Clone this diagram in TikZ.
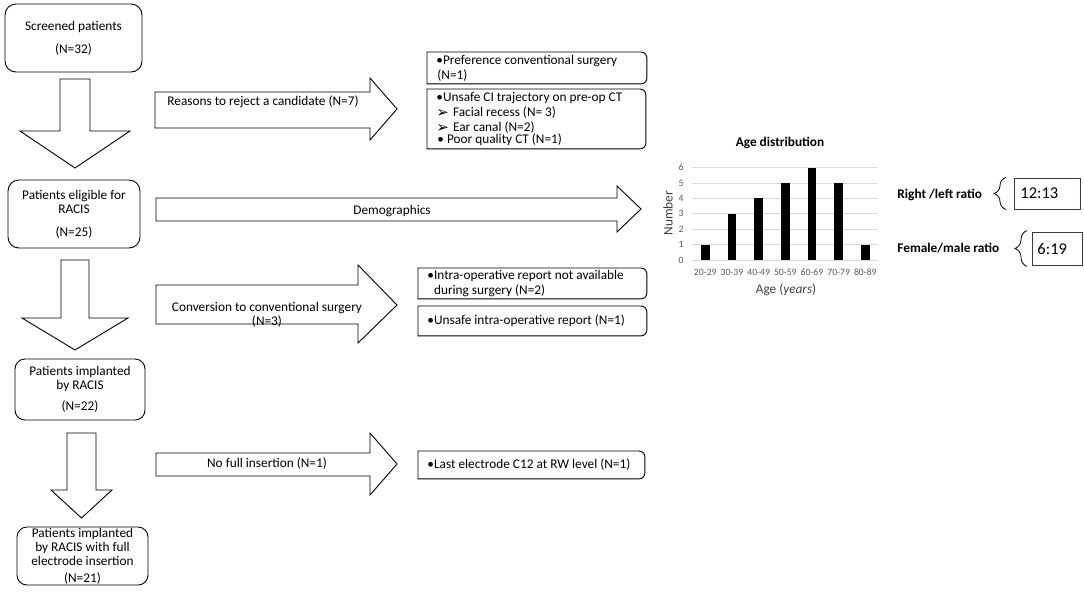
\documentclass[tikz,border=0pt]{standalone}
\usepackage{fontspec}
\setmainfont{Carlito}
\newfontfamily\djv{DejaVu Sans}
\usetikzlibrary{decorations.pathreplacing}
\newcommand\fsmain{\fontsize{13.3}{14}\selectfont}
\newcommand\fsreason{\fontsize{13.3}{15}\selectfont}
\newcommand\fstick{\fontsize{9.7}{11}\selectfont}
\newcommand\fsbig{\fontsize{16.5}{18}\selectfont}
\newcommand\halfbox[1]{\draw (#1.south west) -- (#1.north west) -- ([xshift=-6pt]#1.north east) arc[start angle=90,end angle=0,radius=6pt] -- ([yshift=6pt]#1.south east) arc[start angle=0,end angle=-90,radius=6pt] -- cycle;}
\newcommand\arrowglyph{\raisebox{-0.5pt}{\djv\fontsize{15}{15}\selectfont ➢}}
\definecolor{tickgray}{RGB}{89,89,89}
\definecolor{gridgray}{RGB}{217,217,217}
\definecolor{axisgray}{RGB}{64,64,64}
\definecolor{ratioframe}{RGB}{47,60,82}
\begin{document}
\begin{tikzpicture}[x=1pt,y=-1pt,line width=0.9pt,
  flowbox/.style={draw, rounded corners=11pt, align=center, inner sep=0pt, font=\fsmain},
  reasonframe/.style={inner sep=0pt, anchor=north west},
  reasontext/.style={align=left, inner sep=0pt, font=\fsreason, anchor=west},
  blockarrow/.style={draw, fill=white, line width=0.9pt},
  arrowtext/.style={font=\fsmain, align=center, inner sep=0pt},
  ticklabel/.style={font=\fstick, text=tickgray, inner sep=0pt},
  ratiolabel/.style={font=\fsmain\bfseries, anchor=west, inner sep=0pt},
  ratiobox/.style={draw=ratioframe, font=\fsbig, inner sep=0pt},
  bracestyle/.style={decorate, decoration={brace, amplitude=12pt}, line width=0.8pt}]
\useasboundingbox (0,0) rectangle (1084,598);

% ---- left flow boxes
\node[flowbox, minimum width=137pt, minimum height=68pt] (screened) at (73.5,38) {Screened patients\\[9pt](N=32)};
\node[flowbox, minimum width=132pt, minimum height=68pt] (eligible) at (74,214) {Patients eligible for\\RACIS\\[9pt](N=25)};
\node[flowbox, rounded corners=10pt, minimum width=130pt, minimum height=61pt] (implanted) at (80,389.5) {Patients implanted\\by RACIS\\[7pt](N=22)};
\node[flowbox, rounded corners=10pt, minimum width=131pt, minimum height=58pt] (full) at (82.5,556) {Patients implanted\\by RACIS with full\\electrode insertion\\[3pt](N=21)};

% ---- down block arrows
\draw[blockarrow] (60,79) -- (90,79) -- (90,131) -- (130,131) -- (75,168) -- (20,131) -- (60,131) -- cycle;
\draw[blockarrow] (61,260) -- (89,260) -- (89,318) -- (128,318) -- (75,350) -- (22,318) -- (61,318) -- cycle;
\draw[blockarrow] (67,433) -- (96,433) -- (96,490) -- (112,490) -- (81.5,518) -- (51,490) -- (67,490) -- cycle;

% ---- right block arrows
\draw[blockarrow] (155,92) -- (370,92) -- (370,78) -- (397,109) -- (370,140) -- (370,128) -- (155,128) -- cycle;
\node[arrowtext, anchor=west] (reject) at (167,102) {Reasons to reject a candidate (N=7)};

\draw[blockarrow] (156,198) -- (617,198) -- (617,186) -- (641,209) -- (617,232) -- (617,221) -- (156,221) -- cycle;
\node[arrowtext] (demo) at (392,211) {Demographics};

\draw[blockarrow] (156,285) -- (358,285) -- (358,265) -- (397,305) -- (358,343) -- (358,324) -- (156,324) -- cycle;
\node[arrowtext] (conv) at (267,314.5) {Conversion to conventional surgery\\(N=3)};

\draw[blockarrow] (156,453) -- (370,453) -- (370,433) -- (397,464) -- (370,495) -- (370,476) -- (156,476) -- cycle;
\node[arrowtext] (nofull) at (267,464) {No full insertion (N=1)};

% ---- reason boxes
\node[reasonframe, minimum width=219pt, minimum height=31pt] (pref) at (427,52) {};
\halfbox{pref}
\node[reasontext] (preft) at ([xshift=9pt]pref.west) {•Preference conventional surgery\\\hspace*{1pt}(N=1)};

\node[reasonframe, minimum width=218pt, minimum height=59pt] (unsafe) at (427,89) {};
\halfbox{unsafe}
\node[reasontext] (unsafet) at ([xshift=9pt,yshift=-0.5pt]unsafe.west) {•Unsafe CI trajectory on pre-op CT\\\arrowglyph\hspace{4pt}Facial recess (N= 3)\\\arrowglyph\hspace{4pt}Ear canal (N=2)\\[-3pt]\hspace*{1pt}• Poor quality CT (N=1)};

\node[reasonframe, minimum width=228pt, minimum height=30pt] (intra) at (418,268) {};
\halfbox{intra}
\node[reasontext] (intrat) at ([xshift=9pt]intra.west) {•Intra-operative report not available\\\hphantom{•}during surgery (N=2)};

\node[reasonframe, minimum width=228pt, minimum height=29pt] (unsafeop) at (418,306) {};
\halfbox{unsafeop}
\node[reasontext] (unsafeopt) at ([xshift=9pt]unsafeop.west) {•Unsafe intra-operative report (N=1)};

\node[reasonframe, minimum width=226pt, minimum height=27pt] (last) at (418,451) {};
\halfbox{last}
\node[reasontext] (lastt) at ([xshift=9pt]last.west) {•Last electrode C12 at RW level (N=1)};

% ---- chart
\node[font=\fsmain\bfseries, inner sep=0pt] (title) at (780,143) {Age distribution};
\foreach \k in {0,...,6} {
  \draw[gridgray, line width=0.75pt] (692,{260-15.4*\k}) -- (878,{260-15.4*\k});
  \node[ticklabel, anchor=east] at (684,{260-15.4*\k}) {\k};
}
\foreach \v [count=\i from 0] in {1,3,4,5,6,5,1}
  \fill ({705.3+26.67*\i-4.25},260) rectangle ++(8.5,{-15.4*\v});
\foreach \lab [count=\i from 0] in {20-29,30-39,40-49,50-59,60-69,70-79,80-89}
  \node[ticklabel] at ({705.3+26.67*\i},272) {\lab};
\node[font=\fsmain, text=axisgray, rotate=90, inner sep=0pt] (ylab) at (668,213) {Number};
\node[font=\fsmain, text=axisgray, inner sep=0pt] (xlab) at (786,290) {Age (\textit{years})};

% ---- ratios
\node[ratiolabel] (rl) at (897,195) {Right /left ratio};
\node[ratiolabel] (fm) at (897,248) {Female/male ratio};
\node[ratiobox, minimum width=66pt, minimum height=31pt, anchor=west] (rlbox) at (1014,193.5) {};
\node[font=\fsbig, anchor=west, inner sep=0pt] (rlt) at ([xshift=6pt,yshift=0.5pt]rlbox.west) {12:13};
\node[ratiobox, minimum width=50pt, minimum height=33pt, anchor=west] (fmbox) at (1032,248.5) {};
\node[font=\fsbig, anchor=west, inner sep=0pt] (fmt) at ([xshift=5pt]fmbox.west) {6:19};
\draw[bracestyle] ([xshift=-8pt]rlbox.south west) -- ([xshift=-8pt]rlbox.north west);
\draw[bracestyle] ([xshift=-5pt,yshift=-1pt]fmbox.south west) -- ([xshift=-5pt,yshift=1pt]fmbox.north west);
\end{tikzpicture}
\end{document}
